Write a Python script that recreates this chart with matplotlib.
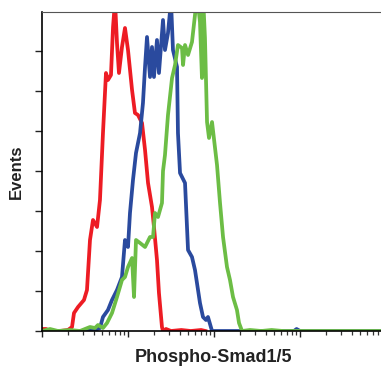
import numpy as np
import matplotlib
matplotlib.use("Agg")
import matplotlib.pyplot as plt
from matplotlib.ticker import LogLocator, NullFormatter, MultipleLocator

# log10 of fluorescence intensity, and event counts
red_logx = [0.0, 0.047, 0.093, 0.209, 0.302, 0.349, 0.372, 0.419, 0.488, 0.523, 0.558,
            0.593, 0.640, 0.674, 0.709, 0.744, 0.767, 0.802, 0.826, 0.849, 0.872, 0.895,
            0.930, 0.965, 1.0, 1.047, 1.081, 1.116, 1.163, 1.198, 1.233, 1.279, 1.302,
            1.337, 1.360, 1.395, 1.407, 1.442, 1.50, 1.62, 1.73, 1.85, 1.90]
red_events = [1, 1, 0, 0, 0.5, 2, 9, 12, 15.5, 20.5, 45.5,
              55.5, 52, 65.5, 99, 129, 125.5, 128, 152, 165, 144, 129,
              142, 151.5, 140.5, 120.5, 109, 108, 104, 90.5, 74, 62, 52,
              35.5, 19, 2, 0, 1, 0, 0.5, 0, 0.5, 0]

blue_logx = [0.0, 0.209, 0.442, 0.616, 0.674, 0.709, 0.767, 0.814, 0.872, 0.930, 0.965,
             1.0, 1.023, 1.058, 1.093, 1.140, 1.174, 1.198, 1.221, 1.256, 1.279, 1.302,
             1.337, 1.360, 1.407, 1.430, 1.465, 1.5, 1.523, 1.570, 1.581, 1.605, 1.663,
             1.698, 1.744, 1.779, 1.802, 1.837, 1.872, 1.907, 1.930, 1.977, 2.3, 2.93,
             2.96, 3.0, 4.0]
blue_events = [0, 0, 0, 0.5, 1.5, 7, 10.5, 15.5, 20.5, 27, 45.5,
               42, 59, 75.5, 89, 99, 114, 132, 147, 127, 142, 127,
               145.5, 129, 155.5, 140.5, 149, 165, 140.5, 132, 99, 79, 74,
               40.5, 37, 30.5, 24, 14, 7, 5.5, 7, 0, 0, 0,
               1, 0, 0]

green_logx = [0.0, 0.093, 0.186, 0.326, 0.442, 0.558, 0.616, 0.651, 0.709, 0.756, 0.814,
              0.872, 0.930, 0.965, 1.0, 1.047, 1.070, 1.093, 1.140, 1.198, 1.256, 1.291,
              1.314, 1.349, 1.395, 1.407, 1.430, 1.465, 1.512, 1.547, 1.581, 1.628, 1.640,
              1.663, 1.698, 1.744, 1.779, 1.802, 1.837, 1.860, 1.872, 1.895, 1.919, 1.942,
              1.977, 2.012, 2.035, 2.070, 2.105, 2.151, 2.186, 2.221, 2.267, 2.291, 2.326,
              2.419, 2.55, 2.67, 2.80, 4.0]
green_events = [0, 1, 0, 0.5, 0, 2, 1.5, 3, 1.5, 4, 9,
                17, 25.5, 27, 32, 36.5, 17, 45.5, 44, 42, 47, 47,
                59, 57, 64, 80, 88, 108, 126.5, 133, 143, 141.5, 133,
                143, 138, 144.5, 158, 168, 154.5, 126.5, 168, 146.5, 104.5, 96.5,
                104.5, 91.5, 83, 64, 47, 32, 25.5, 17, 10.5, 4, 0,
                0.5, 0, 0.5, 0, 0]

fig = plt.figure(figsize=(3.81, 3.68), dpi=100)
ax = fig.add_axes([42 / 381, 37 / 368, 344 / 381, 319 / 368])

ax.plot(10 ** np.array(red_logx), red_events, color="#ED1C24", lw=2.7, solid_joinstyle="round")
ax.plot(10 ** np.array(blue_logx), blue_events, color="#2A4A9E", lw=2.7, solid_joinstyle="round")
ax.plot(10 ** np.array(green_logx), green_events, color="#6CBD45", lw=2.7, solid_joinstyle="round")

ax.set_xscale("log")
ax.set_xlim(1, 1e4)
ax.set_ylim(0, 159.5)

ax.xaxis.set_major_locator(LogLocator(base=10, numticks=10))
ax.xaxis.set_minor_locator(LogLocator(base=10, subs=np.arange(2, 10), numticks=20))
ax.xaxis.set_major_formatter(NullFormatter())
ax.xaxis.set_minor_formatter(NullFormatter())
ax.yaxis.set_major_locator(MultipleLocator(20))
ax.yaxis.set_major_formatter(NullFormatter())

ax.tick_params(axis="x", which="major", direction="out", length=4.5, width=1, color="#222222")
ax.tick_params(axis="x", which="minor", direction="out", length=3, width=0.9, color="#333333")
ax.tick_params(axis="y", which="major", direction="out", length=5, width=1, color="#222222")

ax.spines["right"].set_visible(False)
ax.spines["top"].set_color("#555555")
ax.spines["top"].set_linewidth(0.8)
ax.spines["left"].set_linewidth(1.2)
ax.spines["bottom"].set_linewidth(1.2)

font = ["Liberation Sans Narrow", "Liberation Sans", "DejaVu Sans"]
fig.text(16 / 381, 1 - 172 / 368, "Events", rotation=90, ha="center", va="center",
         fontsize=12, fontweight="bold", family=font, color="#222222")
fig.text(213 / 381, 1 - 357 / 368, "Phospho-Smad1/5", ha="center", va="center",
         fontsize=13, fontweight="bold", family=font, color="#222222")

fig.savefig("out.png", dpi=100)
